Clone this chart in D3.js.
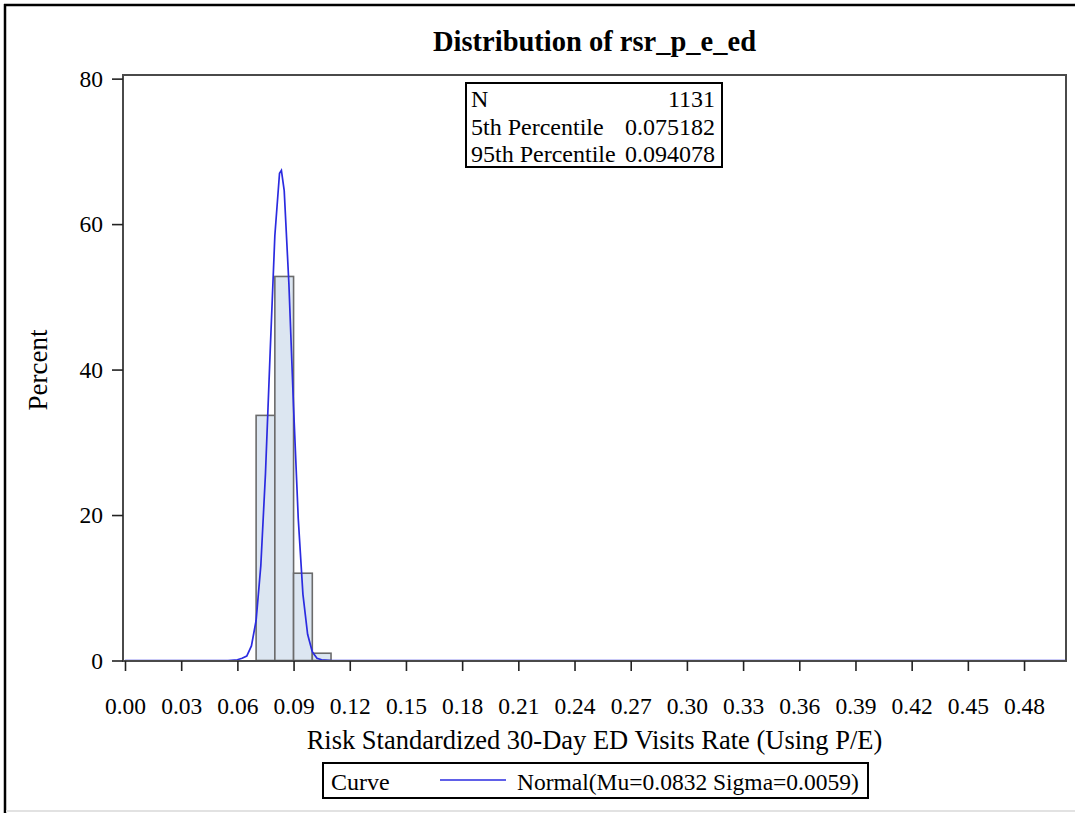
<!DOCTYPE html>
<html>
<head>
<meta charset="utf-8">
<script src="https://cdn.jsdelivr.net/npm/d3@7"></script>
<style>
  body { margin: 0; background: #fff; }
  text { font-family: "Liberation Serif", "Times New Roman", serif; fill: #000; }
</style>
</head>
<body>
<svg id="chart"></svg>
<script>
// histogram bins (left edge) and percent per bin
const binStarts = [0.07, 0.08, 0.09, 0.10];
const binWidth = 0.01;
const binPercents = [33.7, 52.8, 12.0, 1.0];

// fitted normal curve as drawn (x value, percent)
const curveX = [0, 0.055, 0.06, 0.0625, 0.065, 0.0675, 0.07, 0.0725, 0.075, 0.0775, 0.08, 0.0825, 0.0835,
    0.085, 0.0875, 0.09, 0.0925, 0.095, 0.0975, 0.10, 0.1025, 0.105, 0.11, 0.5024];
const curvePercent = [0, 0, 0.1, 0.3, 0.6, 2.0, 5.5, 13.0, 25.7, 42.4, 58.4, 67.0, 67.4,
    64.6, 51.8, 34.8, 19.5, 9.1, 3.6, 1.2, 0.3, 0.1, 0, 0];

const xTicks = [0, 0.03, 0.06, 0.09, 0.12, 0.15, 0.18, 0.21, 0.24, 0.27, 0.30, 0.33, 0.36, 0.39, 0.42, 0.45, 0.48];
const yTicks = [0, 20, 40, 60, 80];

const insetLabels = ["N", "5th Percentile", "95th Percentile"];
const insetValues = ["1131", "0.075182", "0.094078"];

const titleText = "Distribution of rsr_p_e_ed";
const xLabel = "Risk Standardized 30-Day ED Visits Rate (Using P/E)";
const yLabel = "Percent";
const legendTitle = "Curve";
const legendText = "Normal(Mu=0.0832 Sigma=0.0059)";

class histogramChart {
    constructor(config) {
        this.config = {
            parent: config.parent,
            width: config.width || 1075,
            height: config.height || 813,
            plot: config.plot || { left: 123, right: 1066, top: 75, bottom: 661 }
        };
        this.init();
    }

    init() {
        let self = this;
        let p = self.config.plot;

        self.svg = d3.select(self.config.parent)
            .attr('width', self.config.width)
            .attr('height', self.config.height);

        self.xscale = d3.scaleLinear()
            .domain([0, 0.5024])
            .range([p.left + 2, p.right]);

        self.yscale = d3.scaleLinear()
            .domain([0, 80.5])
            .range([p.bottom - 0.5, p.top]);

        self.xaxis = d3.axisBottom(self.xscale)
            .tickValues(xTicks)
            .tickFormat(d3.format(".2f"))
            .tickSizeOuter(0)
            .tickSize(10)
            .tickPadding(26);
        self.yaxis = d3.axisLeft(self.yscale)
            .tickValues(yTicks)
            .tickFormat(d3.format("d"))
            .tickSizeOuter(0)
            .tickSize(11)
            .tickPadding(9);
    }

    render() {
        let self = this;
        let p = self.config.plot;

        // outer frame
        self.svg.append('line')
            .attr('x1', 4).attr('x2', self.config.width).attr('y1', 5).attr('y2', 5)
            .attr('stroke', '#000').attr('stroke-width', 2.5);
        self.svg.append('line')
            .attr('x1', 5).attr('x2', 5).attr('y1', 4).attr('y2', self.config.height)
            .attr('stroke', '#000').attr('stroke-width', 2.5);
        self.svg.append('line')
            .attr('x1', 6).attr('x2', self.config.width).attr('y1', 811).attr('y2', 811)
            .attr('stroke', '#e2e2e2').attr('stroke-width', 2);

        self.svg.append('text')
            .attr('x', (p.left + p.right) / 2)
            .attr('y', 51)
            .attr('text-anchor', 'middle')
            .style('font-size', '28.5px')
            .style('font-weight', 'bold')
            .text(titleText);

        // bars
        self.svg.selectAll('.bar')
            .data(binStarts)
            .enter().append('rect')
            .attr('class', 'bar')
            .attr('x', d => self.xscale(d))
            .attr('width', d => self.xscale(d + binWidth) - self.xscale(d))
            .attr('y', (d, i) => self.yscale(binPercents[i]))
            .attr('height', (d, i) => self.yscale(0) - self.yscale(binPercents[i]))
            .attr('fill', '#dce6f1')
            .attr('stroke', '#6b6b6b')
            .attr('stroke-width', 1.6);

        // normal curve
        let line = d3.line()
            .x((d, i) => self.xscale(curveX[i]))
            .y(d => self.yscale(d));
        self.svg.append('path')
            .datum(curvePercent)
            .attr('d', line)
            .attr('fill', 'none')
            .attr('stroke', '#2b2be0')
            .attr('stroke-width', 1.7);

        // plot frame
        self.svg.append('rect')
            .attr('x', p.left).attr('y', p.top)
            .attr('width', p.right - p.left).attr('height', p.bottom - p.top)
            .attr('fill', 'none')
            .attr('stroke', '#4a4a4a')
            .attr('stroke-width', 2);

        let xg = self.svg.append('g')
            .attr('transform', `translate(0, ${p.bottom})`)
            .call(self.xaxis);
        let yg = self.svg.append('g')
            .attr('transform', `translate(${p.left}, 0)`)
            .call(self.yaxis);
        [xg, yg].forEach(g => {
            g.select('.domain').remove();
            g.selectAll('line').attr('stroke', '#222').attr('stroke-width', 1.6);
            g.selectAll('text').style('font-size', '23.5px').attr('font-family', null);
        });

        // axis labels
        self.svg.append('text')
            .attr('x', (p.left + p.right) / 2)
            .attr('y', 749)
            .attr('text-anchor', 'middle')
            .style('font-size', '26.5px')
            .text(xLabel);
        self.svg.append('text')
            .attr('transform', `translate(47, ${(p.top + p.bottom) / 2 + 2}) rotate(-90)`)
            .attr('text-anchor', 'middle')
            .style('font-size', '27px')
            .text(yLabel);

        // inset statistics table
        let inset = self.svg.append('g');
        inset.append('rect')
            .attr('x', 466).attr('y', 83).attr('width', 256).attr('height', 84)
            .attr('fill', '#fff').attr('stroke', '#000').attr('stroke-width', 2);
        inset.selectAll('.lab')
            .data(insetLabels)
            .enter().append('text')
            .attr('class', 'lab')
            .attr('x', 471)
            .attr('y', (d, i) => 107 + i * 27.5)
            .style('font-size', '24px')
            .text(d => d);
        inset.selectAll('.val')
            .data(insetValues)
            .enter().append('text')
            .attr('class', 'val')
            .attr('x', 715)
            .attr('y', (d, i) => 107 + i * 27.5)
            .attr('text-anchor', 'end')
            .style('font-size', '24px')
            .text(d => d);

        // legend
        let legend = self.svg.append('g');
        legend.append('rect')
            .attr('x', 323).attr('y', 763).attr('width', 545).attr('height', 35)
            .attr('fill', '#fff').attr('stroke', '#000').attr('stroke-width', 2);
        legend.append('text')
            .attr('x', 331).attr('y', 790)
            .style('font-size', '24px')
            .text(legendTitle);
        legend.append('line')
            .attr('x1', 440).attr('x2', 506).attr('y1', 780).attr('y2', 780)
            .attr('stroke', '#2b2be0').attr('stroke-width', 1.7);
        legend.append('text')
            .attr('x', 517).attr('y', 790)
            .style('font-size', '23.5px')
            .text(legendText);
    }
}

let chart = new histogramChart({ parent: '#chart', width: 1075, height: 813 });
chart.render();
</script>
</body>
</html>
